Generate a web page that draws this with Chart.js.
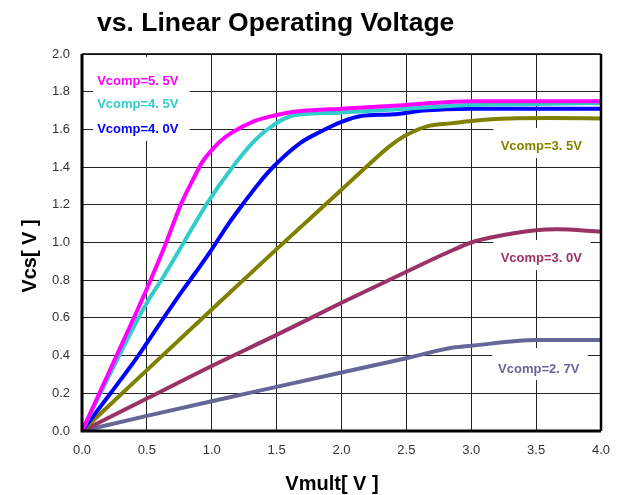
<!DOCTYPE html>
<html>
<head>
<meta charset="utf-8">
<script src="https://cdn.jsdelivr.net/npm/chart.js@4.4.0/dist/chart.umd.min.js"></script>
<style>
  html, body { margin: 0; padding: 0; background: #fff; }
  #wrap { width: 624px; height: 495px; }
</style>
</head>
<body>
<div id="wrap"><canvas id="c" width="624" height="495"></canvas></div>
<script>
// data (Vmult [V] -> Vcs [V])
const x55 = [0, 0.25, 0.5, 0.635, 0.764, 0.86, 0.93, 1.0, 1.07, 1.148, 1.328, 1.43, 1.585, 1.69, 2.0, 2.5, 3.0, 3.5, 4.0];
const y55 = [0, 0.375, 0.755, 0.976, 1.205, 1.34, 1.43, 1.49, 1.54, 1.58, 1.644, 1.665, 1.688, 1.697, 1.71, 1.73, 1.75, 1.75, 1.75];

const x45 = [0, 0.25, 0.5, 0.62, 0.764, 0.969, 1.148, 1.328, 1.482, 1.61, 1.687, 2.0, 2.5, 3.0, 3.5, 4.0];
const y45 = [0, 0.35, 0.68, 0.81, 0.976, 1.213, 1.389, 1.539, 1.627, 1.671, 1.68, 1.69, 1.71, 1.73, 1.735, 1.74];

const x40 = [0, 0.22, 0.434, 0.6, 0.777, 0.88, 0.995, 1.12, 1.25, 1.37, 1.482, 1.687, 1.83, 2.0, 2.14, 2.4, 2.63, 3.0, 3.5, 4.0];
const y40 = [0, 0.2, 0.40, 0.57, 0.747, 0.845, 0.958, 1.09, 1.213, 1.32, 1.407, 1.53, 1.585, 1.64, 1.67, 1.68, 1.70, 1.71, 1.71, 1.71];

const x35 = [0, 0.5, 1.0, 1.5, 2.0, 2.19, 2.37, 2.5, 2.68, 2.84, 3.0, 3.3, 3.6, 4.0];
const y35 = [0, 0.323, 0.645, 0.965, 1.28, 1.40, 1.51, 1.57, 1.62, 1.632, 1.645, 1.658, 1.66, 1.658];

const x30 = [0, 0.5, 1.0, 1.5, 2.0, 2.5, 2.86, 3.0, 3.14, 3.5, 3.66, 4.0];
const y30 = [0, 0.172, 0.345, 0.51, 0.68, 0.845, 0.96, 1.0, 1.025, 1.065, 1.07, 1.058];

const x27 = [0, 0.5, 1.0, 1.5, 2.0, 2.5, 2.84, 3.0, 3.5, 4.0];
const y27 = [0, 0.08, 0.158, 0.234, 0.31, 0.386, 0.44, 0.452, 0.483, 0.483];

const seriesNames = ["Vcomp=5. 5V", "Vcomp=4. 5V", "Vcomp=4. 0V", "Vcomp=3. 5V", "Vcomp=3. 0V", "Vcomp=2. 7V"];
const seriesColors = ["#ff00ff", "#33cccc", "#0000ff", "#808000", "#993366", "#666699"];
const seriesX = [x55, x45, x40, x35, x30, x27];
const seriesY = [y55, y45, y40, y35, y30, y27];

const xTicks = [0, 0.5, 1.0, 1.5, 2.0, 2.5, 3.0, 3.5, 4.0];
const yTicks = [0, 0.2, 0.4, 0.6, 0.8, 1.0, 1.2, 1.4, 1.6, 1.8, 2.0];

// in-plot labels: white boxes and text, in data coordinates
const labelBoxes = [
  { x0: 0.085, x1: 0.83, y0: 1.54, y1: 1.985 },
  { x0: 3.17, x1: 4.0, y0: 1.448, y1: 1.607 },
  { x0: 3.17, x1: 3.92, y0: 0.854, y1: 1.013 },
  { x0: 3.16, x1: 3.90, y0: 0.27, y1: 0.44 }
];
const labelSpots = [
  { i: 0, x: 0.43, y: 1.855 },
  { i: 1, x: 0.43, y: 1.735 },
  { i: 2, x: 0.43, y: 1.60 },
  { i: 3, x: 3.54, y: 1.51 },
  { i: 4, x: 3.54, y: 0.915 },
  { i: 5, x: 3.52, y: 0.325 }
];

const datasets = seriesNames.map((name, i) => ({
  label: name,
  data: seriesX[i].map((x, k) => ({ x: x, y: seriesY[i][k] })),
  borderColor: seriesColors[i],
  borderWidth: 4,
  pointRadius: 0,
  fill: false,
  cubicInterpolationMode: 'monotone'
}));

const sansFont = "'Liberation Sans', Arial, sans-serif";

const overlay = {
  id: 'overlay',
  beforeDatasetsDraw(chart) {
    const ctx = chart.ctx, xs = chart.scales.x, ys = chart.scales.y;
    ctx.save();
    ctx.fillStyle = '#fff';
    labelBoxes.forEach(b => {
      const l = xs.getPixelForValue(b.x0), r = xs.getPixelForValue(b.x1);
      const t = ys.getPixelForValue(b.y1), bt = ys.getPixelForValue(b.y0);
      ctx.fillRect(l, t, r - l, bt - t);
    });
    ctx.restore();
  },
  afterDatasetsDraw(chart) {
    const ctx = chart.ctx, xs = chart.scales.x, ys = chart.scales.y;
    const a = chart.chartArea;
    ctx.save();
    ctx.font = "bold 13px " + sansFont;
    ctx.textAlign = 'center';
    ctx.textBaseline = 'middle';
    labelSpots.forEach(s => {
      ctx.fillStyle = seriesColors[s.i];
      ctx.fillText(seriesNames[s.i], xs.getPixelForValue(s.x), ys.getPixelForValue(s.y));
    });
    // plot frame
    ctx.strokeStyle = '#000';
    ctx.lineWidth = 1.5;
    ctx.beginPath();
    ctx.moveTo(a.left, a.top);
    ctx.lineTo(a.right, a.top);
    ctx.stroke();
    ctx.lineWidth = 2.5;
    ctx.beginPath();
    ctx.moveTo(a.right, a.top);
    ctx.lineTo(a.right, a.bottom);
    ctx.stroke();
    ctx.lineWidth = 3;
    ctx.beginPath();
    ctx.moveTo(a.left, a.top);
    ctx.lineTo(a.left, a.bottom);
    ctx.lineTo(a.right, a.bottom);
    ctx.stroke();
    // title and axis titles
    ctx.fillStyle = '#000';
    ctx.font = "bold 26.5px " + sansFont;
    ctx.textAlign = 'left';
    ctx.textBaseline = 'alphabetic';
    ctx.fillText("vs. Linear Operating Voltage", 97, 31);
    ctx.font = "bold 20px " + sansFont;
    ctx.textAlign = 'center';
    ctx.textBaseline = 'middle';
    ctx.fillText("Vmult[ V ]", 332, 484);
    ctx.translate(30, 256);
    ctx.rotate(-Math.PI / 2);
    ctx.fillText("Vcs[ V ]", 0, 0);
    ctx.restore();
  }
};

new Chart(document.getElementById("c"), {
  type: 'line',
  data: { datasets: datasets },
  options: {
    responsive: false,
    animation: false,
    layout: { padding: { top: 54, right: 23, left: 0, bottom: 0 } },
    plugins: { legend: { display: false }, tooltip: { enabled: false } },
    scales: {
      x: {
        type: 'linear',
        min: 0, max: 4,
        afterBuildTicks: s => { s.ticks = xTicks.map(v => ({ value: v })); },
        afterFit: s => { s.height = 64; },
        ticks: { color: '#333', font: { size: 13, family: sansFont }, padding: 12, callback: v => v.toFixed(1) },
        grid: { color: '#222', lineWidth: 1, drawTicks: false },
        border: { display: false }
      },
      y: {
        min: 0, max: 2,
        afterBuildTicks: s => { s.ticks = yTicks.map(v => ({ value: v })); },
        afterFit: s => { s.width = 82; },
        ticks: { color: '#333', font: { size: 13, family: sansFont }, padding: 12, callback: v => v.toFixed(1) },
        grid: { color: '#222', lineWidth: 1, drawTicks: false },
        border: { display: false }
      }
    }
  },
  plugins: [overlay]
});
</script>
</body>
</html>
